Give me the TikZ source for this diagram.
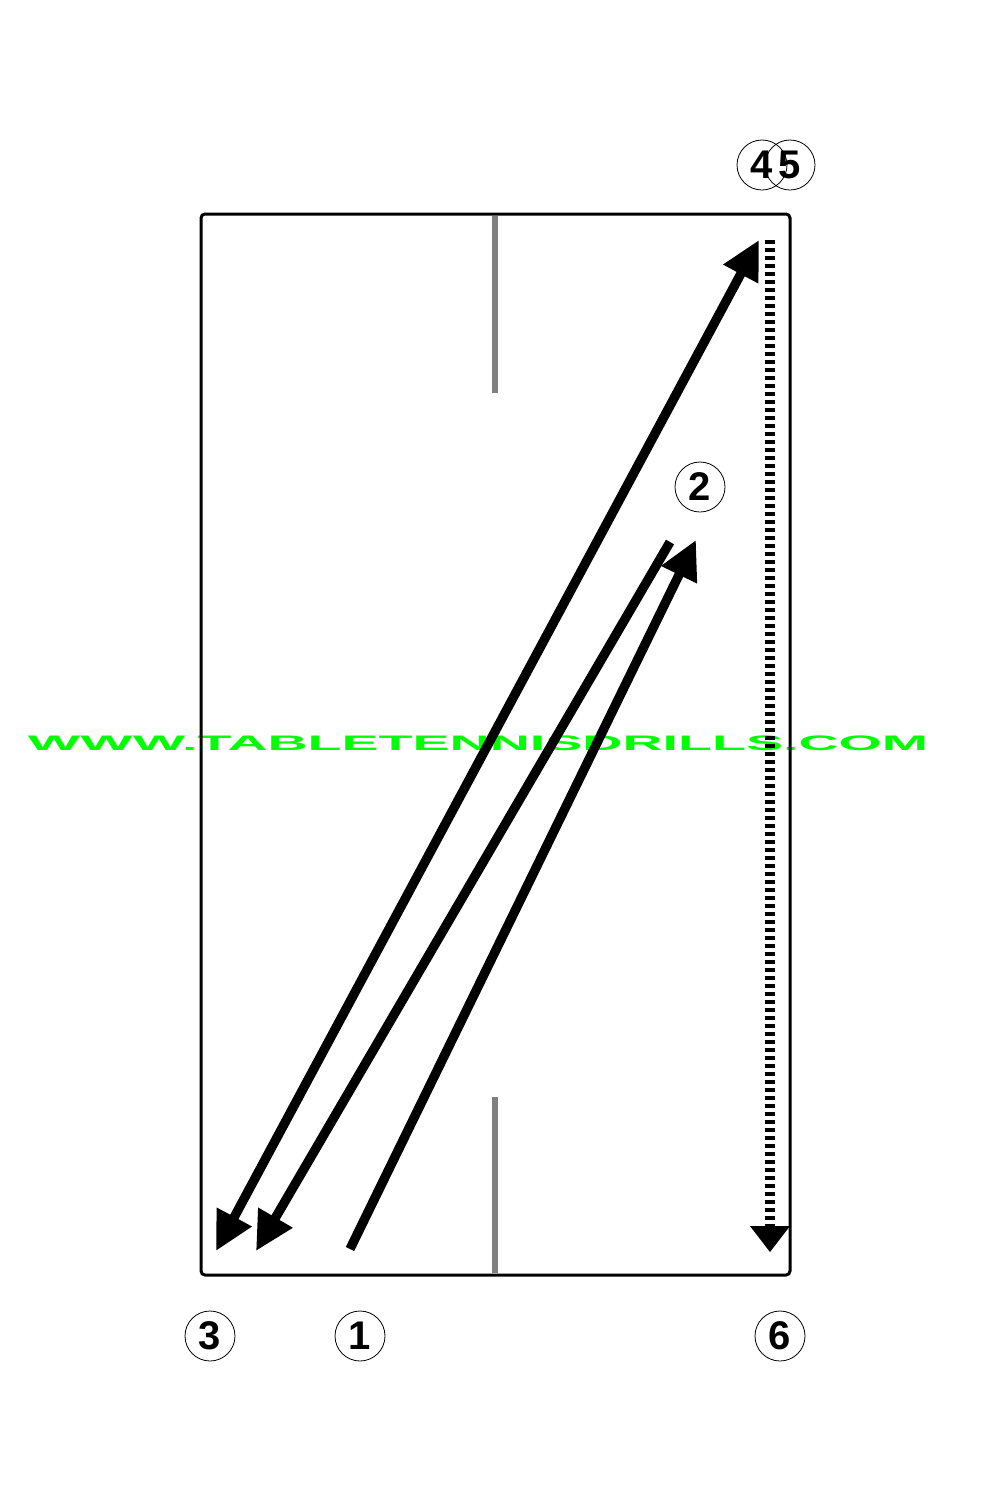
\documentclass[tikz,border=0pt]{standalone}
\usepackage{fontspec}
\setmainfont{Liberation Sans}
\usetikzlibrary{arrows.meta}
\definecolor{wmgreen}{HTML}{00FF00}
\definecolor{netgray}{HTML}{808080}
\tikzset{
  lbl/.style={circle,draw,line width=0.6pt,minimum size=37.5pt,inner sep=0pt,font=\fontsize{30pt}{30pt}\selectfont\bfseries},
  shot/.style={line width=7pt,-{Triangle[length=29pt,width=28pt]}},
  shotboth/.style={line width=7pt,{Triangle[length=29pt,width=28pt]}-{Triangle[length=29pt,width=28pt]}},
  dotline/.style={line width=7pt,dash pattern=on 3pt off 3pt},
}
\begin{document}
\begin{tikzpicture}[x=0.75pt,y=-0.75pt]
\useasboundingbox (0,0) rectangle (1000,1500);
% watermark
\node[inner sep=0pt,text=wmgreen] (wm) at (478,743) {\resizebox{675pt}{11pt}{\textbf{WWW.TABLETENNISDRILLS.COM}}};
% table
\draw[line width=2.25pt,rounded corners=3pt] (201,214) rectangle (790,1275);
\draw[netgray,line width=4.5pt] (495,216) -- (495,393);
\draw[netgray,line width=4.5pt] (495,1097) -- (495,1273);
% coordinates
\coordinate (p1) at (350,1249);
\coordinate (p2) at (696,540);
\coordinate (q2) at (670,542);
\coordinate (q3) at (256,1251);
\coordinate (r3) at (216,1251);
\coordinate (r4) at (759,240);
\coordinate (d1) at (770,240);
\coordinate (d2) at (770,1226);
% shots
\draw[shot] (p1) -- (p2);
\draw[shot] (q2) -- (q3);
\draw[shotboth] (r3) -- (r4);
\draw[dotline] (d1) -- (d2);
\fill (750,1226) -- (790,1226) -- (770,1252) -- cycle;
% labels
\node[lbl] (n4) at (762,165) {4};
\node[lbl] (n5) at (790,165) {5};
\node[lbl] (n2) at (700,487) {2};
\node[lbl] (n3) at (210,1336) {3};
\node[lbl] (n1) at (360,1336) {1};
\node[lbl] (n6) at (780,1336) {6};
\end{tikzpicture}
\end{document}
